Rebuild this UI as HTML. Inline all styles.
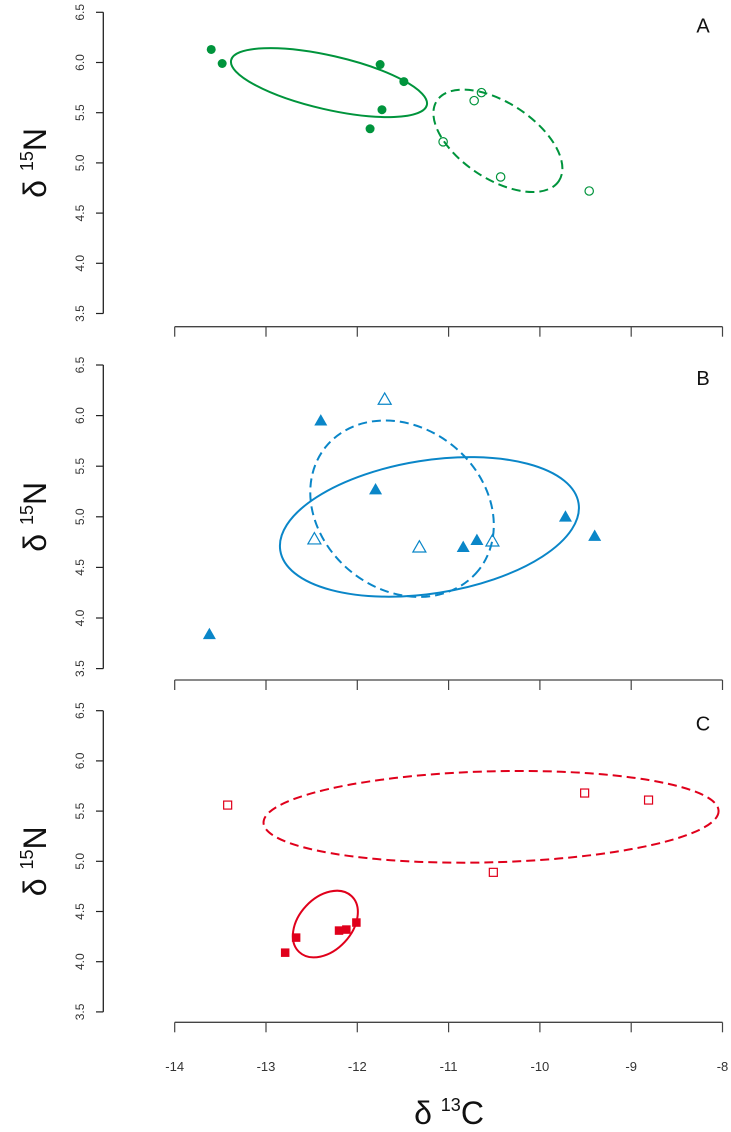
<!DOCTYPE html>
<html><head><meta charset="utf-8">
<style>
html,body{margin:0;padding:0;background:#fff;}
svg{display:block;font-family:"Liberation Sans",Arial,sans-serif;}
</style></head>
<body>
<svg id="chart" width="731" height="1132" viewBox="0 0 731 1132" xmlns="http://www.w3.org/2000/svg"></svg>
<script>
// ---- data ----
const xTicks = [-14,-13,-12,-11,-10,-9,-8];
const yTicks = [3.5,4.0,4.5,5.0,5.5,6.0,6.5];
const yTickLabels = ["3.5","4.0","4.5","5.0","5.5","6.0","6.5"];
const panelLabels = ["A","B","C"];

const aFilledX = [-13.60,-13.48,-11.75,-11.49,-11.73,-11.86];
const aFilledY = [6.13,5.99,5.98,5.81,5.53,5.34];
const aOpenX = [-10.64,-10.72,-11.06,-10.43,-9.46];
const aOpenY = [5.70,5.62,5.21,4.86,4.72];

const bFilledX = [-12.40,-11.80,-10.84,-10.69,-9.72,-9.40,-13.62];
const bFilledY = [5.95,5.27,4.70,4.77,5.00,4.81,3.84];
const bOpenX = [-11.70,-12.47,-11.32,-10.52];
const bOpenY = [6.16,4.78,4.70,4.76];

const cFilledX = [-12.79,-12.67,-12.20,-12.12,-12.01];
const cFilledY = [4.09,4.24,4.31,4.32,4.39];
const cOpenX = [-13.42,-9.51,-8.81,-10.51];
const cOpenY = [5.56,5.68,5.61,4.89];

// ellipse: center x, center y (data), semi-axes (px), rotation (deg)
const aSolidEllipse = [-12.31,5.80,100.4,26.9,12.9];
const aDashEllipse = [-10.46,5.22,73,38.1,33.3];
const bSolidEllipse = [-11.21,4.90,151,66.5,-9];
const bDashEllipse = [-11.51,5.08,98.2,81,39];
const cSolidEllipse = [-12.35,4.375,38.3,26.4,-47];
const cDashEllipse = [-10.535,5.443,227.6,45.5,-1.5];

// ---- layout ----
const NS = "http://www.w3.org/2000/svg";
const svg = document.getElementById("chart");
const X0 = 174.7, XS = 91.3;
function xPx(v){ return X0 + (v + 14) * XS; }
const panels = [
  {top:12.3, unit:100.4, axisY:326.7, color:"#00943c", shape:"circle",
   fx:aFilledX, fy:aFilledY, ox:aOpenX, oy:aOpenY, se:aSolidEllipse, de:aDashEllipse},
  {top:365, unit:101.2, axisY:680, color:"#0a86c8", shape:"triangle",
   fx:bFilledX, fy:bFilledY, ox:bOpenX, oy:bOpenY, se:bSolidEllipse, de:bDashEllipse},
  {top:710.7, unit:100.4, axisY:1022.3, color:"#e0001b", shape:"square",
   fx:cFilledX, fy:cFilledY, ox:cOpenX, oy:cOpenY, se:cSolidEllipse, de:cDashEllipse}
];

function mk(tag, attrs, parent){
  const e = document.createElementNS(NS, tag);
  for (const k in attrs) e.setAttribute(k, attrs[k]);
  (parent||svg).appendChild(e);
  return e;
}

panels.forEach((p, i) => {
  const yPx = v => p.top + (6.5 - v) * p.unit;
  const g = mk("g", {});
  
  

  const ya = mk("line", {x1:103.3, x2:103.3, y1:yPx(6.5), y2:yPx(3.5), stroke:"#222", "stroke-width":1.3}, g);
  
  
  yTicks.forEach((t, j) => {
    const tk = mk("line", {x1:96, x2:103.3, y1:yPx(t), y2:yPx(t), stroke:"#222", "stroke-width":1.2}, g);
    
    
    const lb = mk("text", {x:0, y:0, "font-size":12, fill:"#333", "text-anchor":"middle",
      transform:"translate(84," + yPx(t) + ") rotate(-90)"}, g);
    lb.textContent = yTickLabels[j];
    
    
  });
  const yt = mk("text", {x:0, y:0, "font-size":32, fill:"#111", "text-anchor":"middle",
    transform:"translate(46," + yPx(5.0) + ") rotate(-90)"}, g);
  
  
  const t1 = mk("tspan", {}, yt); t1.textContent = "δ ";
  const t2 = mk("tspan", {"font-size":18, dy:-13}, yt); t2.textContent = "15";
  const t3 = mk("tspan", {dy:13}, yt); t3.textContent = "N";

  const xa = mk("line", {x1:xPx(-14), x2:xPx(-8), y1:p.axisY, y2:p.axisY, stroke:"#444", "stroke-width":1.3}, g);
  
  
  xTicks.forEach(t => {
    const tk = mk("line", {x1:xPx(t), x2:xPx(t), y1:p.axisY, y2:p.axisY + 10, stroke:"#444", "stroke-width":1.2}, g);
    
    
  });

  const pl = mk("text", {x:703, y:p.top + 20, "font-size":20, fill:"#111", "text-anchor":"middle"}, g);
  pl.textContent = panelLabels[i];
  
  

  [[p.se, null, 'solid-ellipse'], [p.de, "9 5", 'dashed-ellipse']].forEach(([e, dash, nm]) => {
    const cx = xPx(e[0]), cy = yPx(e[1]);
    const el = mk("ellipse", {cx:cx, cy:cy, rx:e[2], ry:e[3], fill:"none", stroke:p.color, "stroke-width":2,
      transform:"rotate(" + e[4] + " " + cx + " " + cy + ")"}, g);
    if (dash) el.setAttribute("stroke-dasharray", dash);
    
    
  });

  function marker(x, y, filled){
    const cx = xPx(x), cy = yPx(y);
    let m;
    const fill = filled ? p.color : "none";
    if (p.shape === "circle") {
      m = mk("circle", {cx:cx, cy:cy, r:filled ? 4.5 : 4.2, fill:fill, stroke:p.color, "stroke-width":filled ? 0 : 1.2}, g);
    } else if (p.shape === "triangle") {
      const s = 6.5;
      m = mk("polygon", {points:(cx) + "," + (cy - s) + " " + (cx - s) + "," + (cy + s*0.75) + " " + (cx + s) + "," + (cy + s*0.75),
        fill:fill, stroke:p.color, "stroke-width":filled ? 0 : 1.2}, g);
    } else {
      const s = filled ? 8.5 : 8;
      m = mk("rect", {x:cx - s/2, y:cy - s/2, width:s, height:s, fill:fill, stroke:p.color, "stroke-width":filled ? 0 : 1.2}, g);
    }
    return m;
  }
  p.fx.forEach((x, k) => {
    const m = marker(x, p.fy[k], true);
    
    
  });
  p.ox.forEach((x, k) => {
    const m = marker(x, p.oy[k], false);
    
    
  });
});

xTicks.forEach(t => {
  const lb = mk("text", {x:xPx(t), y:1071, "font-size":13, fill:"#333", "text-anchor":"middle"});
  lb.textContent = String(t);
  
  
});
const xt = mk("text", {x:449, y:1124, "font-size":32, fill:"#111", "text-anchor":"middle"});


const a1 = mk("tspan", {}, xt); a1.textContent = "δ ";
const a2 = mk("tspan", {"font-size":18, dy:-13}, xt); a2.textContent = "13";
const a3 = mk("tspan", {dy:13}, xt); a3.textContent = "C";
</script>
</body></html>
